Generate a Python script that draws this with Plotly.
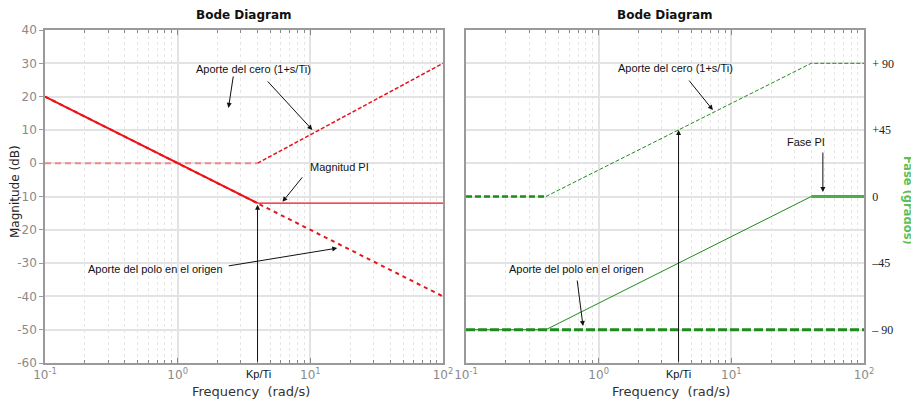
import math
import plotly.graph_objects as go

# ---------------- data ----------------
freq_range = [0.1, 100]          # rad/s
kp_ti = 4                        # Kp/Ti corner

# magnitude (dB)
pole_mag_x = [0.1, 100]
pole_mag_y = [20, -40]
pi_mag_slope_x = [0.1, 4]
pi_mag_slope_y = [20, -12]
pi_mag_flat_x = [4, 100]
pi_mag_flat_y = [-12, -12]
zero_mag_low_x = [0.1, 4]
zero_mag_low_y = [0, 0]
zero_mag_high_x = [4, 100]
zero_mag_high_y = [0, 30]

# phase (degrees)
zero_ph_low_x = [0.1, 0.4]
zero_ph_low_y = [0, 0]
zero_ph_high_x = [0.4, 40, 100]
zero_ph_high_y = [0, 90, 90]
pi_ph_x = [0.1, 0.4, 40]
pi_ph_y = [-90, -90, 0]
pi_ph_flat_x = [40, 100]
pi_ph_flat_y = [0, 0]
pole_ph_x = [0.1, 100]
pole_ph_y = [-90, -90]

freq_ticks = [0.1, 1, 10, 100]
freq_ticktext = ["10<sup>-1</sup>", "10<sup>0</sup>", "10<sup>1</sup>", "10<sup>2</sup>"]
mag_ticks = [40, 30, 20, 10, 0, -10, -20, -30, -40, -50, -60]
mag_ticktext = ["40", "30", "20", "10", "0", "-10", "-20", "-30", "-40", "-50", "-60"]
phase_grid = [112.5, 90, 67.5, 45, 22.5, 0, -22.5, -45, -67.5, -90, -112.5]
phase_ticktext = ["", "+ 90", "", "+45", "", "0", "", "\u201345", "", "\u2013 90", ""]

# the page body has an 8px margin: figure is sized to the visible window
OFF = 8
W, H = 919 - OFF, 404 - OFF
RED = "#e8141b"
PINK = "#f08a8a"
GREEN = "#1c8c1c"
LGREEN = "#48b048"
GRID = "#e3e3e3"
FRAME = "#9a9a9a"
TICKC = "#888888"


def px(x):
    return (x - OFF) / W


def py(y):
    return 1 - (y - OFF) / H


fig = go.Figure()

# left: magnitude
fig.add_trace(go.Scatter(x=pole_mag_x, y=pole_mag_y, mode="lines",
                         line=dict(color=RED, width=2, dash="4px,4px"),
                         xaxis="x", yaxis="y", showlegend=False))
fig.add_trace(go.Scatter(x=zero_mag_low_x, y=zero_mag_low_y, mode="lines",
                         line=dict(color=PINK, width=2, dash="6px,4px"),
                         xaxis="x", yaxis="y", showlegend=False))
fig.add_trace(go.Scatter(x=zero_mag_high_x, y=zero_mag_high_y, mode="lines",
                         line=dict(color=RED, width=1.5, dash="4px,2px"),
                         xaxis="x", yaxis="y", showlegend=False))
fig.add_trace(go.Scatter(x=pi_mag_slope_x, y=pi_mag_slope_y, mode="lines",
                         line=dict(color=RED, width=2),
                         xaxis="x", yaxis="y", showlegend=False))
fig.add_trace(go.Scatter(x=pi_mag_flat_x, y=pi_mag_flat_y, mode="lines",
                         line=dict(color=RED, width=1.2),
                         xaxis="x", yaxis="y", showlegend=False))

# right: phase
fig.add_trace(go.Scatter(x=zero_ph_low_x, y=zero_ph_low_y, mode="lines",
                         line=dict(color=GREEN, width=2.5, dash="6px,3px"),
                         xaxis="x2", yaxis="y2", showlegend=False))
fig.add_trace(go.Scatter(x=zero_ph_high_x, y=zero_ph_high_y, mode="lines",
                         line=dict(color=GREEN, width=1, dash="4px,2px"),
                         xaxis="x2", yaxis="y2", showlegend=False))
fig.add_trace(go.Scatter(x=pi_ph_x, y=pi_ph_y, mode="lines",
                         line=dict(color=GREEN, width=1),
                         xaxis="x2", yaxis="y2", showlegend=False))
fig.add_trace(go.Scatter(x=pi_ph_flat_x, y=pi_ph_flat_y, mode="lines",
                         line=dict(color=LGREEN, width=3),
                         xaxis="x2", yaxis="y2", showlegend=False))
fig.add_trace(go.Scatter(x=pole_ph_x, y=pole_ph_y, mode="lines",
                         line=dict(color=GREEN, width=3, dash="9px,3px"),
                         xaxis="x2", yaxis="y2", showlegend=False))

xr = [math.log10(freq_range[0]), math.log10(freq_range[1])]
ydom = [py(363), py(30)]

common_x = dict(type="log", range=xr, tickvals=freq_ticks, ticktext=freq_ticktext,
                automargin=False,
                showgrid=True, gridcolor=GRID, gridwidth=2,
                showline=True, linecolor=FRAME, linewidth=1.5, mirror="ticks",
                ticks="inside", ticklen=5, tickcolor=TICKC,
                tickfont=dict(family="DejaVu Sans", size=12, color="#8a8a8a"),
                zeroline=False,
                minor=dict(dtick="D1", showgrid=True, gridcolor="#e6e6e6",
                           griddash="dot", gridwidth=1, ticks="inside",
                           ticklen=3, tickcolor=TICKC))

fig.update_layout(
    width=W, height=H,
    margin=dict(l=0, r=0, t=0, b=0),
    paper_bgcolor="white", plot_bgcolor="white",
    xaxis=dict(domain=[px(45), px(443)], anchor="y", **common_x),
    yaxis=dict(domain=ydom, anchor="x", range=[-60, 40], automargin=False,
               tickvals=mag_ticks, ticktext=mag_ticktext,
               showgrid=True, gridcolor=GRID, gridwidth=2, zeroline=False,
               showline=True, linecolor=FRAME, linewidth=1.5, mirror=True,
               ticks="outside", ticklen=4, tickcolor=FRAME,
               tickfont=dict(family="DejaVu Sans", size=12, color="#8a8a8a")),
    xaxis2=dict(domain=[px(466), px(864)], anchor="y2", **common_x),
    yaxis2=dict(domain=ydom, anchor="x2", side="right", range=[-112.5, 112.5],
                automargin=False,
                tickvals=phase_grid, ticktext=phase_ticktext,
                showgrid=True, gridcolor=GRID, gridwidth=2, zeroline=False,
                showline=True, linecolor=FRAME, linewidth=1.5, mirror=True,
                ticks="", ticklabelstandoff=4,
                tickfont=dict(family="Liberation Serif", size=12, color="#222222")),
)

ann = []


def text(x, y, s, size=11, family="Liberation Sans", color="#111111", bold=False, angle=0):
    ann.append(dict(xref="paper", yref="paper", x=px(x), y=py(y),
                    text=("<b>%s</b>" % s) if bold else s, showarrow=False,
                    xanchor="center", yanchor="middle", textangle=angle,
                    font=dict(family=family, size=size, color=color)))


def arrow(xa, ya, x, y, ax, ay):
    ann.append(dict(xref=xa, yref=ya, x=x, y=y, ax=ax, ay=ay, text="",
                    showarrow=True, arrowhead=2, arrowsize=1, arrowwidth=1,
                    arrowcolor="#111111"))


# titles
text(244, 15, "Bode Diagram", size=12, family="DejaVu Sans", bold=True, color="#111")
text(665, 15, "Bode Diagram", size=12, family="DejaVu Sans", bold=True, color="#111")
text(15, 192, "Magnitude (dB)", size=12, family="DejaVu Sans", color="#222", angle=-90)
text(251, 391, "Frequency  (rad/s)", size=13, family="DejaVu Sans", color="#333")
text(671, 391, "Frequency  (rad/s)", size=13, family="DejaVu Sans", color="#333")
text(908, 200, "Fase (grados)", size=11.5, family="DejaVu Sans", bold=True,
     color="#5cbf5c", angle=90)

# left annotations
text(253, 69, "Aporte del cero (1+s/Ti)")
text(339, 167, "Magnitud PI")
text(155, 269, "Aporte del polo en el origen")
text(258, 374, "Kp/Ti", size=11)
arrow("x", "y", 0.383, 16.6, 5, -33)
arrow("x", "y", 1.015, 10, -46, -50)
arrow("x", "y", 0.79, -11.6, 21, -26)
arrow("x", "y", 1.203, -25.5, -110, 18)
ann.append(dict(xref="x", yref="y", axref="x", ayref="y",
                x=math.log10(kp_ti), y=-12.5, ax=math.log10(kp_ti), ay=-60,
                text="", showarrow=True, arrowhead=2, arrowsize=1, arrowwidth=1,
                arrowcolor="#111111"))

# right annotations
text(675, 68, "Aporte del cero (1+s/Ti)")
text(806, 142, "Fase PI")
text(576, 269, "Aporte del polo en el origen")
text(678, 374, "Kp/Ti", size=11)
arrow("x2", "y2", 0.861, 58.4, -25, -31)
arrow("x2", "y2", 1.69, 3, 0, -41)
arrow("x2", "y2", -0.118, -87.5, -6, -47)
ann.append(dict(xref="x2", yref="y2", axref="x2", ayref="y2",
                x=math.log10(kp_ti), y=45, ax=math.log10(kp_ti), ay=-112.5,
                text="", showarrow=True, arrowhead=2, arrowsize=1, arrowwidth=1,
                arrowcolor="#111111"))

fig.update_layout(annotations=ann)
fig.write_html("out.html")
